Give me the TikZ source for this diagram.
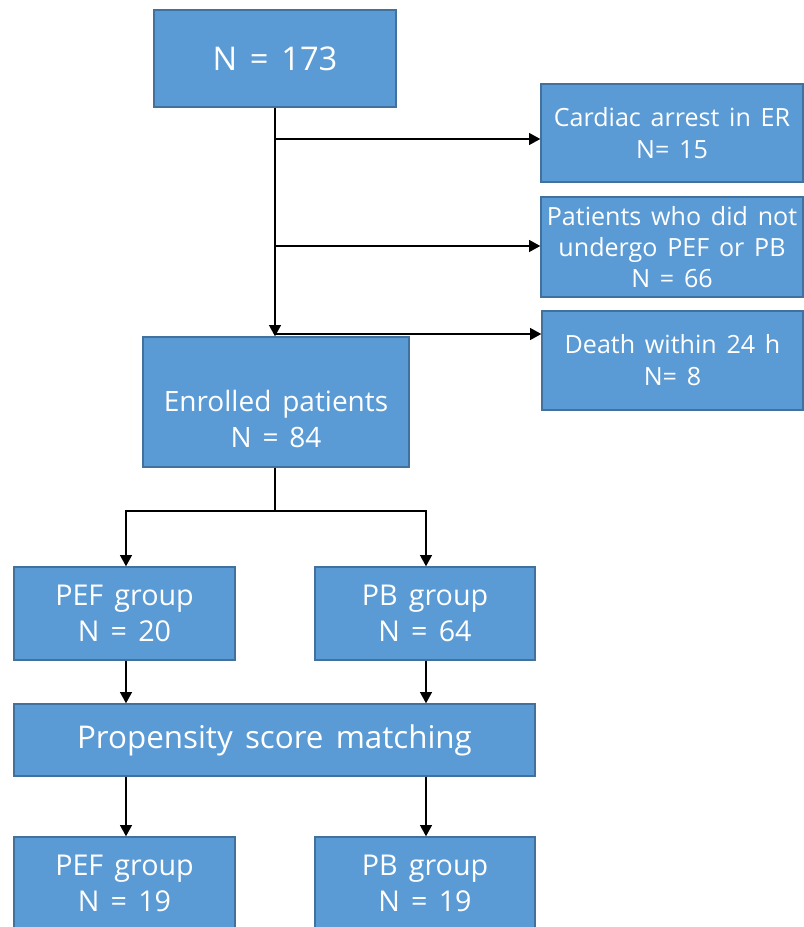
\documentclass[tikz,border=0pt]{standalone}
\usepackage{fontspec}
\setmainfont{Open Sans}[WordSpace=1.5]
\usetikzlibrary{arrows.meta}
\definecolor{boxfill}{HTML}{5B9BD5}
\definecolor{boxline}{HTML}{41719C}
\begin{document}
\begin{tikzpicture}[x=0.75pt,y=-0.75pt,
  box/.style={draw=boxline,line width=0.8pt,fill=boxfill,text=white,align=center,inner sep=0pt,minimum width=#1},
  txt/.style={text=white,align=center,inner sep=0pt},
  conn/.style={line width=2.2pt,-{Triangle[length=8.5pt,width=8.5pt]}},
  seg/.style={line width=2.2pt}]
\useasboundingbox (0,0) rectangle (803,927);
\node[box=242*0.75pt,minimum height=97*0.75pt,font=\fontsize{24.5}{28}\selectfont] (top) at (275,58.5) {N = 173};
\node[box=262*0.75pt,minimum height=98*0.75pt,font=\fontsize{18.8}{24}\selectfont] (ca) at (672,133) {Cardiac arrest in ER\\N= 15};
\node[box=262*0.75pt,minimum height=100*0.75pt,font=\fontsize{18.8}{23.5}\selectfont] (pat) at (672,247) {Patients who did not\\undergo PEF or PB\\N = 66};
\node[box=261*0.75pt,minimum height=99*0.75pt,font=\fontsize{18.8}{24}\selectfont] (death) at (672.5,360.5) {Death within 24 h\\N= 8};
\node[box=266*0.75pt,minimum height=130*0.75pt] (enr) at (276,402) {};
\node[txt,font=\fontsize{21}{26.5}\selectfont] (enrt) at (276,419) {Enrolled patients\\N = 84};
\node[box=221*0.75pt,minimum height=93*0.75pt,font=\fontsize{21.5}{27}\selectfont] (pef1) at (124.5,613.5) {PEF group\\N = 20};
\node[box=220*0.75pt,minimum height=93*0.75pt,font=\fontsize{21.5}{27}\selectfont] (pb1) at (425,613.5) {PB group\\N = 64};
\node[box=521*0.75pt,minimum height=72*0.75pt,font=\fontsize{23.5}{28}\selectfont] (psm) at (274.5,740) {Propensity score matching};
\node[box=221*0.75pt,minimum height=93*0.75pt,font=\fontsize{21.5}{27}\selectfont] (pef2) at (124.5,883.5) {PEF group\\N = 19};
\node[box=220*0.75pt,minimum height=93*0.75pt,font=\fontsize{21.5}{27}\selectfont] (pb2) at (425,883.5) {PB group\\N = 19};
% top trunk
\coordinate (b1) at (275,139);
\coordinate (b2) at (275,246);
\coordinate (b3) at (275,334);
\draw[conn] (top.south -| b1) -- (enr.north -| b1);
\draw[conn] (b1) -- (b1 -| ca.west);
\draw[conn] (b2) -- (b2 -| pat.west);
\draw[conn] (b3) -- (b3 -| death.west);
% split
\coordinate (j) at (275,511);
\coordinate (jl) at (126,511);
\coordinate (jr) at (426,511);
\draw[seg] (enr.south -| j) -- (j);
\draw[conn] (j) -- (jl) -- (jl |- pef1.north);
\draw[conn] (j) -- (jr) -- (jr |- pb1.north);
\draw[conn] (pef1.south -| jl) -- (psm.north -| jl);
\draw[conn] (pb1.south -| jr) -- (psm.north -| jr);
\draw[conn] (psm.south -| jl) -- (pef2.north -| jl);
\draw[conn] (psm.south -| jr) -- (pb2.north -| jr);
\end{tikzpicture}
\end{document}
